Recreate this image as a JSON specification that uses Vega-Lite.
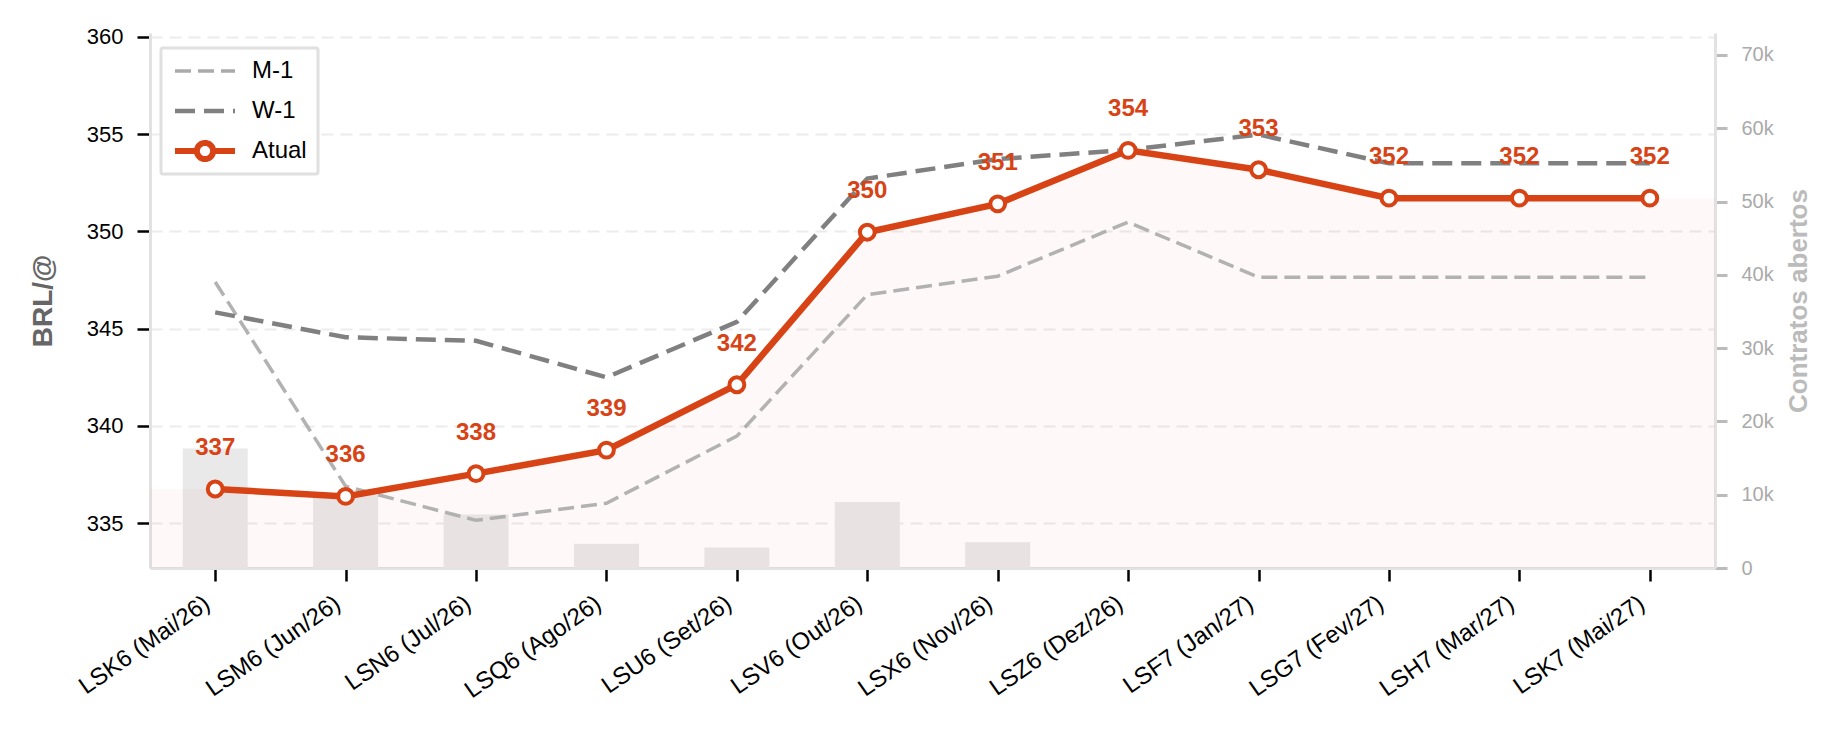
{
  "$schema": "https://vega.github.io/schema/vega-lite/v6.json",
  "width": 1565,
  "height": 535,
  "autosize": {"type": "none"},
  "padding": {"left": 150, "top": 33, "right": 131, "bottom": 166},
  "config": {
    "font": "Liberation Sans",
    "view": {"stroke": null},
    "axis": {
      "domainColor": "#e2e2e2",
      "domainWidth": 3,
      "tickColor": "#000000",
      "tickWidth": 2.5,
      "tickSize": 13,
      "labelColor": "#000000",
      "labelFontSize": 22,
      "labelFont": "Liberation Sans"
    }
  },
  "data": {
    "values": [
      {"idx": 0, "contrato": "LSK6 (Mai/26)", "atual": 336.76, "w1": 345.84, "m1": 347.4, "oi": 16300},
      {"idx": 1, "contrato": "LSM6 (Jun/26)", "atual": 336.38, "w1": 344.56, "m1": 336.9, "oi": 10000},
      {"idx": 2, "contrato": "LSN6 (Jul/26)", "atual": 337.55, "w1": 344.38, "m1": 335.15, "oi": 7300},
      {"idx": 3, "contrato": "LSQ6 (Ago/26)", "atual": 338.76, "w1": 342.5, "m1": 336.03, "oi": 3300},
      {"idx": 4, "contrato": "LSU6 (Set/26)", "atual": 342.12, "w1": 345.35, "m1": 339.48, "oi": 2800},
      {"idx": 5, "contrato": "LSV6 (Out/26)", "atual": 349.96, "w1": 352.72, "m1": 346.75, "oi": 9000},
      {"idx": 6, "contrato": "LSX6 (Nov/26)", "atual": 351.42, "w1": 353.72, "m1": 347.7, "oi": 3500},
      {"idx": 7, "contrato": "LSZ6 (Dez/26)", "atual": 354.17, "w1": 354.19, "m1": 350.48, "oi": 0},
      {"idx": 8, "contrato": "LSF7 (Jan/27)", "atual": 353.17, "w1": 354.98, "m1": 347.65, "oi": 0},
      {"idx": 9, "contrato": "LSG7 (Fev/27)", "atual": 351.71, "w1": 353.5, "m1": 347.65, "oi": 0},
      {"idx": 10, "contrato": "LSH7 (Mar/27)", "atual": 351.71, "w1": 353.5, "m1": 347.65, "oi": 0},
      {"idx": 11, "contrato": "LSK7 (Mai/27)", "atual": 351.71, "w1": 353.5, "m1": 347.65, "oi": 0}
    ]
  },
  "encoding": {
    "x": {
      "field": "idx",
      "type": "quantitative",
      "scale": {"domain": [-0.5, 11.5], "nice": false, "zero": false, "padding": 0},
      "axis": {
        "title": null,
        "grid": false,
        "values": [0, 1, 2, 3, 4, 5, 6, 7, 8, 9, 10, 11],
        "labelExpr": "['LSK6 (Mai/26)','LSM6 (Jun/26)','LSN6 (Jul/26)','LSQ6 (Ago/26)','LSU6 (Set/26)','LSV6 (Out/26)','LSX6 (Nov/26)','LSZ6 (Dez/26)','LSF7 (Jan/27)','LSG7 (Fev/27)','LSH7 (Mar/27)','LSK7 (Mai/27)'][datum.value]",
        "labelAngle": -35,
        "labelAlign": "right",
        "labelBaseline": "top",
        "labelPadding": 10,
        "labelOffset": -15,
        "labelFontSize": 24,
        "labelOverlap": false,
        "labelBound": false,
        "labelFlush": false
      }
    }
  },
  "layer": [
    {
      "mark": {"type": "bar", "width": 65, "color": "#e9e9e9"},
      "encoding": {
        "y": {
          "field": "oi",
          "type": "quantitative",
          "scale": {"domain": [0, 73000], "nice": false},
          "axis": {
            "orient": "right",
            "title": "Contratos abertos",
            "titleAngle": 270,
            "titleBaseline": "top",
            "titleFontSize": 26,
            "titleFontWeight": "bold",
            "titleColor": "#bbbbbb",
            "titlePadding": 12,
            "values": [0, 10000, 20000, 30000, 40000, 50000, 60000, 70000],
            "labelExpr": "datum.value === 0 ? '0' : (datum.value / 1000) + 'k'",
            "labelColor": "#aaaaaa",
            "labelFontSize": 20,
            "labelPadding": 14,
            "tickColor": "#bbbbbb",
            "tickWidth": 3,
            "tickSize": 12,
            "grid": false
          }
        }
      }
    },
    {
      "encoding": {
        "y": {
          "type": "quantitative",
          "scale": {"domain": [332.7, 360.2], "nice": false, "zero": false},
          "axis": {
            "title": "BRL/@",
            "titleFontSize": 28,
            "titleFontWeight": "bold",
            "titleColor": "#666666",
            "titlePadding": 29,
            "values": [335, 340, 345, 350, 355, 360],
            "labelPadding": 14,
            "grid": true,
            "gridColor": "#ececec",
            "gridWidth": 2,
            "gridDash": [12, 7]
          }
        }
      },
      "layer": [
        {
          "mark": {"type": "area", "color": "#d84315", "opacity": 0.03},
          "encoding": {
            "y": {"field": "atual"},
            "y2": {"datum": 332.7}
          }
        },
        {
          "transform": [{"filter": "datum.idx === 0"}],
          "mark": {"type": "rect", "color": "#d84315", "opacity": 0.03},
          "encoding": {
            "x2": {"datum": -0.5},
            "y": {"field": "atual"},
            "y2": {"datum": 332.7}
          }
        },
        {
          "transform": [{"filter": "datum.idx === 11"}],
          "mark": {"type": "rect", "color": "#d84315", "opacity": 0.03},
          "encoding": {
            "x2": {"datum": 11.5},
            "y": {"field": "atual"},
            "y2": {"datum": 332.7}
          }
        },
        {
          "mark": {"type": "line", "strokeWidth": 3.5, "strokeDash": [16, 7], "opacity": 0.9},
          "encoding": {
            "y": {"field": "m1"},
            "color": {
              "datum": "M-1",
              "type": "nominal",
              "scale": {"domain": ["M-1", "W-1", "Atual"], "range": ["#aaaaaa", "#808080", "#d84315"]},
              "legend": {
                "title": null,
                "orient": "none",
                "legendX": 11,
                "legendY": 15,
                "direction": "vertical",
                "fillColor": "#ffffff",
                "strokeColor": "#e0e0e0",
                "padding": 11,
                "cornerRadius": 2,
                "symbolSize": 3600,
                "symbolOffset": 0,
                "clipHeight": 24,
                "rowPadding": 16,
                "labelOffset": 14,
                "labelFontSize": 24,
                "labelColor": "#000000",
                "labelFont": "Liberation Sans",
                "encode": {
                  "legend": {"update": {"strokeWidth": {"value": 3}}},
                  "symbols": {
                    "update": {
                      "shape": {"signal": "(datum.value === 'Atual' ? 'M-1,0L-0.27,0M0.27,0L1,0M-0.27,0A0.27,0.27,0,1,1,0.27,0A0.27,0.27,0,1,1,-0.27,0Z' : 'stroke')"},
                      "fill": {"signal": "(datum.value === 'Atual' ? '#ffffff' : 'transparent')"},
                      "strokeDash": {"signal": "(datum.value === 'M-1' ? [16, 7] : datum.value === 'W-1' ? [20, 9] : [1, 0])"},
                      "strokeWidth": {"signal": "(datum.value === 'M-1' ? 3.5 : datum.value === 'W-1' ? 4.5 : 6)"},
                      "opacity": {"value": 1}
                    }
                  }
                }
              }
            }
          }
        },
        {
          "mark": {"type": "line", "strokeWidth": 4.5, "strokeDash": [20, 9]},
          "encoding": {
            "y": {"field": "w1"},
            "color": {
              "datum": "W-1",
              "type": "nominal",
              "legend": {
                "title": null,
                "orient": "none",
                "legendX": 11,
                "legendY": 15,
                "direction": "vertical",
                "fillColor": "#ffffff",
                "strokeColor": "#e0e0e0",
                "padding": 11,
                "cornerRadius": 2,
                "symbolSize": 3600,
                "symbolOffset": 0,
                "clipHeight": 24,
                "rowPadding": 16,
                "labelOffset": 14,
                "labelFontSize": 24,
                "labelColor": "#000000",
                "labelFont": "Liberation Sans",
                "encode": {
                  "legend": {"update": {"strokeWidth": {"value": 3}}},
                  "symbols": {
                    "update": {
                      "shape": {"signal": "(datum.value === 'Atual' ? 'M-1,0L-0.27,0M0.27,0L1,0M-0.27,0A0.27,0.27,0,1,1,0.27,0A0.27,0.27,0,1,1,-0.27,0Z' : 'stroke')"},
                      "fill": {"signal": "(datum.value === 'Atual' ? '#ffffff' : 'transparent')"},
                      "strokeDash": {"signal": "(datum.value === 'M-1' ? [16, 7] : datum.value === 'W-1' ? [20, 9] : [1, 0])"},
                      "strokeWidth": {"signal": "(datum.value === 'M-1' ? 3.5 : datum.value === 'W-1' ? 4.5 : 6)"},
                      "opacity": {"value": 1}
                    }
                  }
                }
              }
            }
          }
        },
        {
          "mark": {"type": "line", "strokeWidth": 6.5},
          "encoding": {
            "y": {"field": "atual"},
            "color": {
              "datum": "Atual",
              "type": "nominal",
              "legend": {
                "title": null,
                "orient": "none",
                "legendX": 11,
                "legendY": 15,
                "direction": "vertical",
                "fillColor": "#ffffff",
                "strokeColor": "#e0e0e0",
                "padding": 11,
                "cornerRadius": 2,
                "symbolSize": 3600,
                "symbolOffset": 0,
                "clipHeight": 24,
                "rowPadding": 16,
                "labelOffset": 14,
                "labelFontSize": 24,
                "labelColor": "#000000",
                "labelFont": "Liberation Sans",
                "encode": {
                  "legend": {"update": {"strokeWidth": {"value": 3}}},
                  "symbols": {
                    "update": {
                      "shape": {"signal": "(datum.value === 'Atual' ? 'M-1,0L-0.27,0M0.27,0L1,0M-0.27,0A0.27,0.27,0,1,1,0.27,0A0.27,0.27,0,1,1,-0.27,0Z' : 'stroke')"},
                      "fill": {"signal": "(datum.value === 'Atual' ? '#ffffff' : 'transparent')"},
                      "strokeDash": {"signal": "(datum.value === 'M-1' ? [16, 7] : datum.value === 'W-1' ? [20, 9] : [1, 0])"},
                      "strokeWidth": {"signal": "(datum.value === 'M-1' ? 3.5 : datum.value === 'W-1' ? 4.5 : 6)"},
                      "opacity": {"value": 1}
                    }
                  }
                }
              }
            }
          }
        },
        {
          "mark": {"type": "circle", "fill": "#ffffff", "stroke": "#d84315", "strokeWidth": 4, "size": 220, "opacity": 1},
          "encoding": {
            "y": {"field": "atual"}
          }
        },
        {
          "mark": {"type": "text", "color": "#d84315", "fontWeight": "bold", "fontSize": 24, "baseline": "alphabetic", "dy": -34},
          "encoding": {
            "y": {"field": "atual"},
            "text": {"field": "atual", "type": "quantitative", "format": ".0f"}
          }
        }
      ]
    }
  ],
  "resolve": {"scale": {"y": "independent"}}
}
